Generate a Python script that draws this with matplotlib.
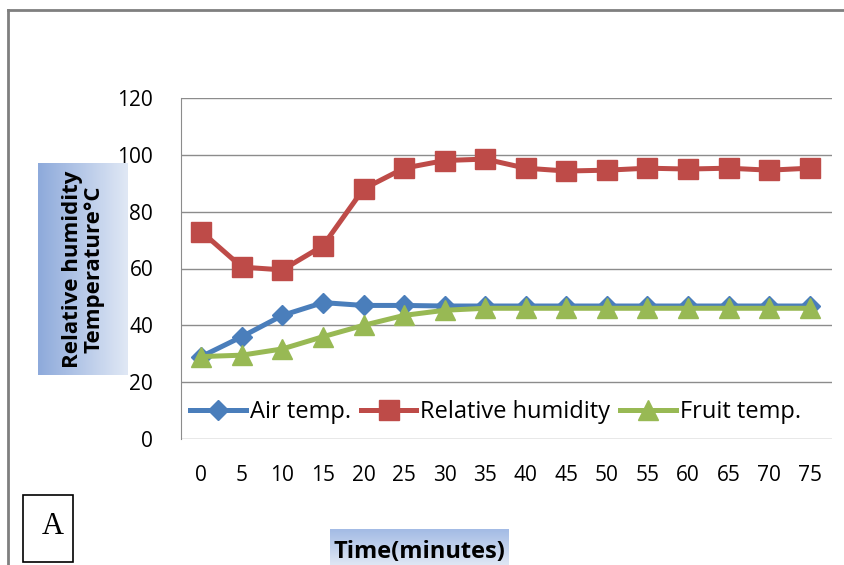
import matplotlib
matplotlib.use("Agg")
import matplotlib.pyplot as plt
import numpy as np
from matplotlib.lines import Line2D
from matplotlib.patches import Rectangle

# data
times = ["0", "5", "10", "15", "20", "25", "30", "35", "40", "45", "50", "55", "60", "65", "70", "75"]
air_temp = [29, 36, 43.5, 48, 47, 47, 46.8, 46.8, 46.8, 46.8, 46.8, 46.8, 46.8, 46.8, 46.8, 46.8]
rel_humidity = [73, 60.5, 59.5, 68, 88, 95.3, 98, 98.5, 95.3, 94.3, 94.6, 95.3, 95, 95.3, 94.6, 95.3]
fruit_temp = [29, 29.5, 31.7, 36, 40, 43.5, 45.3, 46, 46, 46, 46, 46, 46, 46, 46, 46]
yticks = [0, 20, 40, 60, 80, 100, 120]

plt.rcParams['font.family'] = ['Open Sans', 'DejaVu Sans']

W, H = 845, 565
fig = plt.figure(figsize=(W / 100, H / 100), dpi=100)

# outer frame (left and top edges visible)
fig.add_artist(Line2D([8 / W, 8 / W], [0, 1 - 10 / H], color='#7f7f7f', lw=2))
fig.add_artist(Line2D([8 / W, 1], [1 - 10 / H, 1 - 10 / H], color='#7f7f7f', lw=2))

ax = fig.add_axes([181 / W, 1 - 439 / H, (832 - 181) / W, (439 - 98) / H])
x = np.arange(len(times))

ax.plot(x, air_temp, color='#4a7ebb', lw=3.6, marker='D', ms=10, label='Air temp.', zorder=3)
ax.plot(x, rel_humidity, color='#be4b48', lw=3.6, marker='s', ms=15, label='Relative humidity', zorder=3)
ax.plot(x, fruit_temp, color='#98b954', lw=3.6, marker='^', ms=15, label='Fruit temp.', zorder=4)

ax.set_xlim(-0.5, 15.55)
ax.set_ylim(0, 120)
ax.set_yticks(yticks)
ax.set_xticks(x)
ax.set_xticklabels(times)
ax.tick_params(axis='both', length=0, labelsize=15, colors='#000000')
ax.tick_params(axis='x', pad=19)
ax.tick_params(axis='y', pad=20)
ax.grid(axis='y', color='#8c8c8c', lw=1)
ax.set_axisbelow(True)
for s in ['top', 'right', 'bottom']:
    ax.spines[s].set_visible(False)
ax.spines['left'].set_color('#8c8c8c')

leg = ax.legend(loc='lower left', bbox_to_anchor=(0.0, 0.015), ncol=3, frameon=False,
                fontsize=17, handlelength=2.35, handletextpad=0.17, columnspacing=0.42,
                borderaxespad=0.2, borderpad=0.2)

# y label box with horizontal gradient
yb = fig.add_axes([38 / W, 1 - 375 / H, (128 - 38) / W, (375 - 163) / H], zorder=-1)
grad = np.linspace(0, 1, 100).reshape(1, -1)
cmap_y = matplotlib.colors.LinearSegmentedColormap.from_list('g', ['#8eaadb', '#e0e8f5'])
yb.imshow(grad, aspect='auto', cmap=cmap_y, extent=[0, 1, 0, 1])
yb.set_axis_off()
yb.text(0.5, 0.5, 'Relative humidity\nTemperature°C', rotation=90, ha='center', va='center',
        fontsize=16, fontweight='bold', linespacing=1.05, transform=yb.transAxes)

# x label box with vertical gradient
xb = fig.add_axes([330 / W, 0, (508 - 330) / W, (565 - 529) / H])
grad_v = np.linspace(0, 1, 100).reshape(-1, 1)
cmap_x = matplotlib.colors.LinearSegmentedColormap.from_list('gx', ['#dfe7f4', '#a3bbe5'])
xb.imshow(grad_v, aspect='auto', cmap=cmap_x, extent=[0, 1, 0, 1], origin='lower')
xb.set_axis_off()
xb.text(0.5, 0.35, 'Time(minutes)', ha='center', va='center', fontsize=17,
        fontweight='bold', transform=xb.transAxes)

# panel letter box
fig.add_artist(Rectangle((23 / W, 1 - 562 / H), (73 - 23) / W, (562 - 495) / H,
                         transform=fig.transFigure, fill=False, ec='black', lw=1.2))
fig.text(53 / W, 1 - 526 / H, 'A', family='Liberation Serif', fontsize=22,
         ha='center', va='center')

fig.savefig('out.png', dpi=100)
